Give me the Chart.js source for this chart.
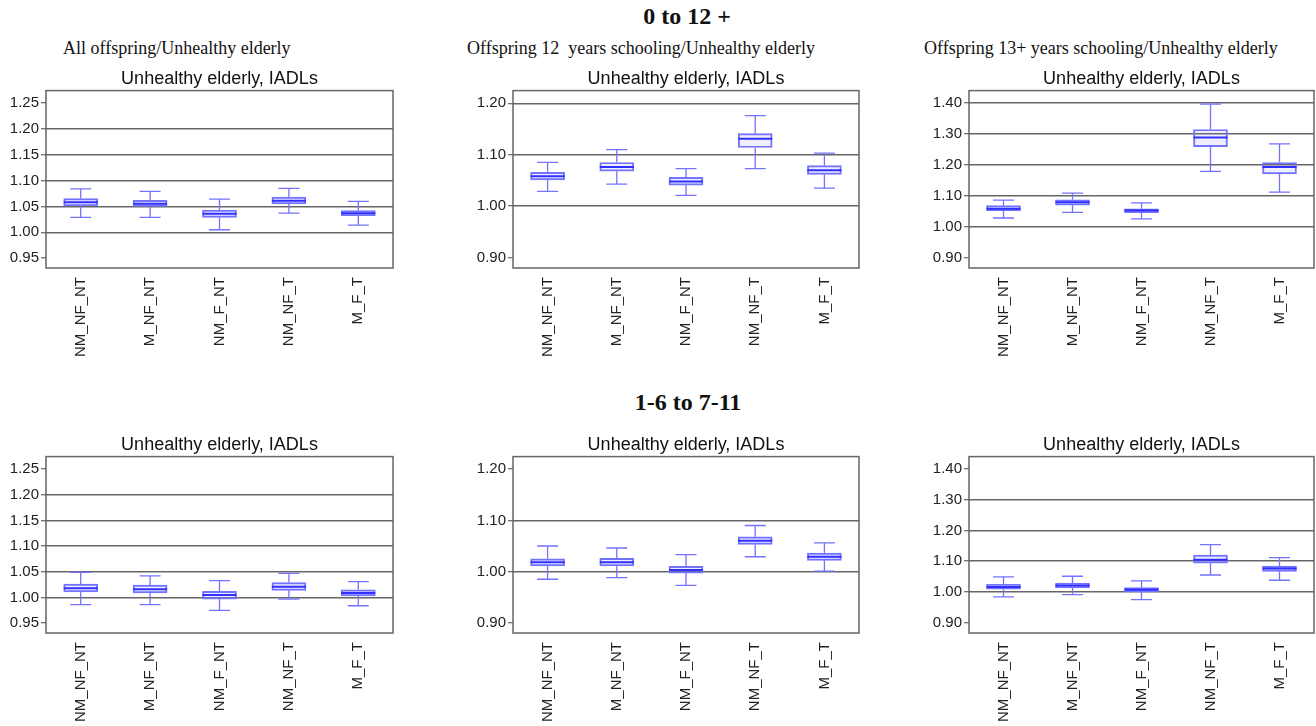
<!DOCTYPE html>
<html>
<head>
<meta charset="utf-8">
<script src="https://cdn.jsdelivr.net/npm/chart.js@4.4.1/dist/chart.umd.min.js"></script>
<style>
  body { margin:0; background:#fff; width:1316px; height:726px; position:relative; overflow:hidden; }
  canvas { position:absolute; }
  .head { position:absolute; font-family:'Liberation Serif','Times New Roman',serif; color:#111; white-space:pre; }
  .big  { font-size:24px; font-weight:bold; line-height:26px; width:400px; text-align:center; }
  .sub  { font-size:18px; line-height:20px; }
</style>
</head>
<body>
<div class="head big" style="left:487px;top:3px">0 to 12 +</div>
<div class="head big" style="left:488px;top:389px">1-6 to 7-11</div>
<div class="head sub" style="left:63px;top:38px">All offspring/Unhealthy elderly</div>
<div class="head sub" style="left:467px;top:38px">Offspring 12  years schooling/Unhealthy elderly</div>
<div class="head sub" style="left:924px;top:38px">Offspring 13+ years schooling/Unhealthy elderly</div>

<canvas id="c1" width="395" height="295" style="left:0;top:68px"></canvas>
<canvas id="c2" width="394" height="295" style="left:467px;top:68px"></canvas>
<canvas id="c3" width="393" height="295" style="left:923px;top:68px"></canvas>
<canvas id="c4" width="395" height="294" style="left:0;top:434px"></canvas>
<canvas id="c5" width="394" height="294" style="left:467px;top:434px"></canvas>
<canvas id="c6" width="393" height="294" style="left:923px;top:434px"></canvas>

<script>
const categories = ['NM_NF_NT','M_NF_NT','NM_F_NT','NM_NF_T','M_F_T'];

// each row: [low whisker, Q1, median, Q3, high whisker]
const allTop = [
  [1.029,1.051,1.058,1.065,1.084],
  [1.029,1.050,1.055,1.062,1.079],
  [1.005,1.029,1.036,1.043,1.064],
  [1.037,1.055,1.061,1.068,1.085],
  [1.014,1.032,1.037,1.042,1.060]
];
const yrs12Top = [
  [1.029,1.051,1.058,1.066,1.085],
  [1.043,1.068,1.076,1.085,1.110],
  [1.021,1.041,1.048,1.056,1.073],
  [1.073,1.114,1.131,1.141,1.176],
  [1.035,1.062,1.070,1.079,1.103]
];
const yrs13Top = [
  [1.028,1.052,1.058,1.068,1.086],
  [1.046,1.070,1.079,1.087,1.109],
  [1.025,1.045,1.052,1.058,1.077],
  [1.179,1.259,1.289,1.315,1.397],
  [1.112,1.171,1.193,1.208,1.268]
];
const allBot = [
  [0.986,1.011,1.018,1.026,1.049],
  [0.986,1.009,1.016,1.024,1.042],
  [0.975,0.997,1.005,1.012,1.033],
  [0.997,1.014,1.021,1.029,1.047],
  [0.984,1.003,1.009,1.015,1.031]
];
const yrs12Bot = [
  [0.985,1.011,1.018,1.025,1.050],
  [0.988,1.011,1.018,1.026,1.046],
  [0.973,0.997,1.003,1.010,1.033],
  [1.029,1.053,1.060,1.068,1.090],
  [1.001,1.022,1.029,1.036,1.056]
];
const yrs13Bot = [
  [0.984,1.009,1.016,1.025,1.049],
  [0.991,1.013,1.021,1.029,1.051],
  [0.975,1.000,1.007,1.014,1.036],
  [1.055,1.094,1.105,1.120,1.154],
  [1.038,1.067,1.076,1.084,1.112]
];

// tick labels and where the horizontal rules sit
const ticksFine   = [0.95,1.00,1.05,1.10,1.15,1.20,1.25];
const ticksMid    = [0.90,1.00,1.10,1.20];
const ticksWide   = [0.90,1.00,1.10,1.20,1.30,1.40];
const rulesFine   = [1.00,1.05,1.10,1.15,1.20];
const rulesMidTop = [1.00,1.10,1.20];
const rulesMidBot = [1.00,1.10];
const rulesWideTop= [1.00,1.10,1.20,1.30,1.40];
const rulesWideBot= [1.00,1.10,1.20,1.30];

const BOX = '#7373ff', MED = '#2f2fff', RULE = '#666';
Chart.defaults.font.family = "'Liberation Sans', Arial, sans-serif";
Chart.defaults.color = '#222';

// whiskers, caps, median and the frame, all placed with the chart's scales
const boxWhisk = {
  id:'boxWhisk',
  afterDatasetsDraw(chart, args, opts) {
    const { ctx, chartArea:a, scales:{ x, y } } = chart;
    ctx.save();
    opts.stats.forEach((s,i) => {
      const cx = x.getPixelForValue(i);
      const [lo, q1, md, q3, hi] = s.map(v => y.getPixelForValue(v));
      ctx.strokeStyle = BOX; ctx.lineWidth = 1.3;
      ctx.beginPath();
      ctx.moveTo(cx, hi); ctx.lineTo(cx, q3);
      ctx.moveTo(cx, q1); ctx.lineTo(cx, lo);
      ctx.moveTo(cx-10.5, hi); ctx.lineTo(cx+10.5, hi);
      ctx.moveTo(cx-10.5, lo); ctx.lineTo(cx+10.5, lo);
      ctx.stroke();
      ctx.strokeStyle = MED; ctx.lineWidth = 2;
      ctx.beginPath(); ctx.moveTo(cx-17, md); ctx.lineTo(cx+17, md); ctx.stroke();
    });
    ctx.strokeStyle = RULE; ctx.lineWidth = 1.5;
    ctx.strokeRect(a.left, a.top, a.right-a.left, a.bottom-a.top);
    ctx.restore();
  }
};

const near = (a,b) => Math.abs(a-b) < 1e-6;

function panel(id, stats, min, max, ticks, rules) {
  new Chart(document.getElementById(id).getContext('2d'), {
    type:'bar',
    data:{ labels:categories, datasets:[{
      data: stats.map(s => [s[1], s[3]]),
      backgroundColor:'rgba(115,115,255,0.12)', borderColor:BOX, borderWidth:1.3,
      borderSkipped:false, barThickness:34
    }]},
    options:{
      responsive:false, animation:false, devicePixelRatio:1,
      layout:{ padding:{ left:0, right:2, top:0, bottom:0 } },
      plugins:{
        legend:{ display:false }, tooltip:{ enabled:false },
        title:{ display:true, text:'Unhealthy elderly, IADLs', fullSize:false, color:'#111',
                font:{ size:18, weight:'normal' }, padding:{ top:0, bottom:1 } },
        boxWhisk:{ stats }
      },
      scales:{
        x:{
          grid:{ display:false, drawTicks:false }, border:{ display:false },
          ticks:{ minRotation:90, maxRotation:90, padding:9, font:{ size:15 }, color:'#222' },
          afterFit: s => { s.height = 95; }
        },
        y:{
          min, max,
          afterBuildTicks: s => { s.ticks = ticks.map(v => ({ value:v })); },
          afterFit: s => { s.width = 46; },
          border:{ display:false },
          grid:{ lineWidth:1.5, tickLength:5, tickColor:'#444', tickWidth:1,
                 color: c => (c.tick && rules.some(r => near(r, c.tick.value))) ? RULE : 'rgba(0,0,0,0)' },
          ticks:{ padding:2, font:{ size:15 }, color:'#222', callback: v => Number(v).toFixed(2) }
        }
      }
    },
    plugins:[boxWhisk]
  });
}

panel('c1', allTop,   0.931, 1.274, ticksFine, rulesFine);
panel('c2', yrs12Top, 0.880, 1.2246, ticksMid, rulesMidTop);
panel('c3', yrs13Top, 0.866, 1.441, ticksWide, rulesWideTop);
panel('c4', allBot,   0.931, 1.274, ticksFine, rulesFine);
panel('c5', yrs12Bot, 0.880, 1.2246, ticksMid, rulesMidBot);
panel('c6', yrs13Bot, 0.866, 1.441, ticksWide, rulesWideBot);
</script>
</body>
</html>
